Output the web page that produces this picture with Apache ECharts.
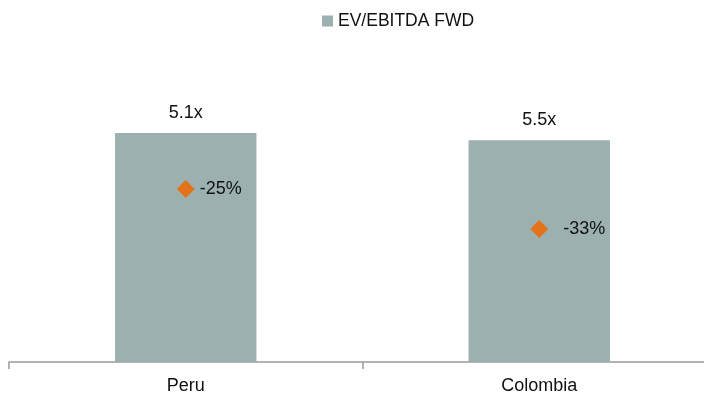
<!DOCTYPE html>
<html>
<head>
<meta charset="utf-8">
<script src="https://cdn.jsdelivr.net/npm/echarts@6/dist/echarts.min.js"></script>
<style>
  html, body { margin: 0; padding: 0; background: #ffffff; }
  #chart { width: 704px; height: 400px; }
</style>
</head>
<body>
<div id="chart"></div>
<script>
// ---- data ----
const categories = ['Peru', 'Colombia'];
const seriesName = 'EV/EBITDA FWD';
const barValues = [5.09, 4.93];          // bar heights as drawn
const barLabels = ['5.1x', '5.5x'];
const diamondValues = [33.3, 25.6];      // marker heights as drawn
const diamondLabels = ['-25%', '-33%'];

// ---- styles (not data) ----
const FONT = '"Liberation Sans", Arial, sans-serif';
const labelGaps = [5, 15];

const chart = echarts.init(document.getElementById('chart'), null, { renderer: 'canvas' });

chart.setOption({
  animation: false,
  backgroundColor: '#ffffff',
  textStyle: { fontFamily: FONT, color: '#111' },
  legend: {
    data: [seriesName],
    left: 322,
    top: 12,
    padding: 0,
    itemWidth: 11,
    itemHeight: 11,
    icon: 'rect',
    itemGap: 5,
    textStyle: { fontSize: 17.5, color: '#111', fontFamily: FONT }
  },
  grid: { left: 9, width: 707, top: 92, bottom: 38, outerBoundsMode: 'none', containLabel: false },
  xAxis: {
    type: 'category',
    data: categories,
    axisLine: { show: true, lineStyle: { color: '#9a9a9a', width: 1.5 } },
    axisTick: { show: true, length: 7, alignWithLabel: false, lineStyle: { color: '#9a9a9a', width: 1.5 } },
    axisLabel: { fontSize: 18, color: '#111', margin: 15, fontFamily: FONT },
    splitLine: { show: false }
  },
  yAxis: [
    { type: 'value', min: 0, max: 6, show: false, splitLine: { show: false } },
    { type: 'value', min: 0, max: 52, show: false, splitLine: { show: false } }
  ],
  series: [
    {
      name: seriesName,
      type: 'bar',
      yAxisIndex: 0,
      data: barValues,
      barWidth: '40%',
      itemStyle: { color: '#9CB0B0' },
      label: {
        show: true,
        position: 'top',
        distance: 11,
        fontSize: 18,
        color: '#111',
        fontFamily: FONT,
        formatter: p => barLabels[p.dataIndex]
      }
    },
    {
      name: 'diff',
      type: 'scatter',
      yAxisIndex: 1,
      symbol: 'diamond',
      symbolSize: [18, 18],
      itemStyle: { color: '#E2731A', opacity: 1 },
      data: diamondValues.map((v, i) => ({
        value: v,
        label: { distance: labelGaps[i] }
      })),
      label: {
        show: true,
        position: 'right',
        fontSize: 18,
        color: '#111',
        fontFamily: FONT,
        formatter: p => diamondLabels[p.dataIndex]
      },
      z: 5
    }
  ]
});
</script>
</body>
</html>
